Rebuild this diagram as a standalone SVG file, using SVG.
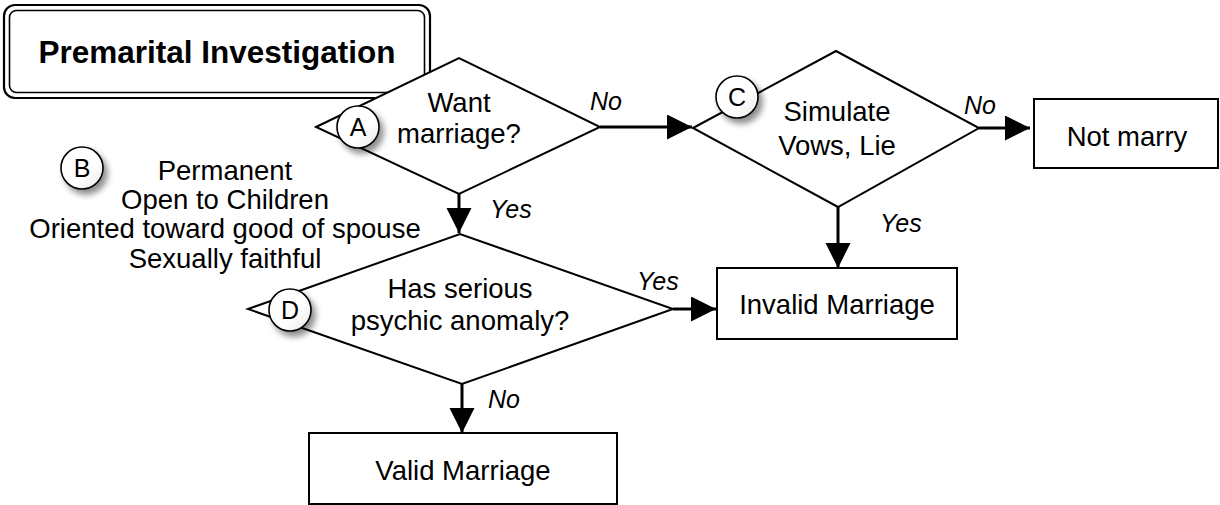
<svg xmlns="http://www.w3.org/2000/svg" width="1220" height="505" viewBox="0 0 1220 505">
<defs>
<style>
text{font-family:"Liberation Sans",Arial,sans-serif;fill:#000}
.t{font-size:27.5px;text-anchor:middle}
.lbl{font-size:25px;font-style:italic}
.shape{fill:#fff;stroke:#000;stroke-width:2}
.conn{stroke:#000;stroke-width:3;fill:none}
.circ{fill:url(#cg);stroke:#000;stroke-width:1.6;filter:url(#sh)}
.cl{font-size:25px;text-anchor:middle}
</style>
<marker id="ah" markerUnits="userSpaceOnUse" markerWidth="26" markerHeight="26" refX="25" refY="12.5" orient="auto">
<path d="M0,0 L25,12.5 L0,25 z" fill="#000"/>
</marker>
<linearGradient id="cg" x1="0" y1="0" x2="1" y2="1">
<stop offset="0" stop-color="#ffffff"/>
<stop offset="0.6" stop-color="#ffffff"/>
<stop offset="1" stop-color="#e6e6e6"/>
</linearGradient>
<filter id="sh" x="-40%" y="-40%" width="200%" height="200%">
<feGaussianBlur in="SourceAlpha" stdDeviation="3"/>
<feOffset dx="4" dy="5" result="b"/>
<feComponentTransfer><feFuncA type="linear" slope="0.45"/></feComponentTransfer>
<feMerge><feMergeNode/><feMergeNode in="SourceGraphic"/></feMerge>
</filter>
</defs>
<rect width="1220" height="505" fill="#fff"/>

<g id="title">
<rect x="4" y="5" width="426" height="93" rx="11" fill="#fff" stroke="#000" stroke-width="2.2"/>
<rect x="9.5" y="10.5" width="415" height="82" rx="7" fill="none" stroke="#000" stroke-width="1.6"/>
<text x="217" y="63" style="font-size:31.5px;font-weight:bold;text-anchor:middle">Premarital Investigation</text>
</g>

<g id="d1">
<polygon class="shape" points="316,127 459,58 600,127 459,194"/>
<text class="t" x="459" y="112">Want</text>
<text class="t" x="459" y="143">marriage?</text>
</g>

<g id="d2">
<polygon class="shape" points="693,128 836,51 979,128 838,207"/>
<text class="t" x="837" y="121">Simulate</text>
<text class="t" x="837" y="155">Vows, Lie</text>
</g>

<g id="notmarry">
<rect class="shape" x="1034" y="99" width="184" height="69"/>
<text class="t" x="1127" y="146">Not marry</text>
</g>

<g id="legendB">
<text class="t" x="225" y="180">Permanent</text>
<text class="t" x="225" y="209">Open to Children</text>
<text class="t" x="225" y="238">Oriented toward good of spouse</text>
<text class="t" x="225" y="268">Sexually faithful</text>
</g>

<g id="d3">
<polygon class="shape" points="248,309 460,234 673,309 462,384"/>
<text class="t" x="460" y="298">Has serious</text>
<text class="t" x="460" y="330">psychic anomaly?</text>
</g>

<g id="invalid">
<rect class="shape" x="717" y="268" width="240" height="71"/>
<text class="t" x="837" y="314">Invalid Marriage</text>
</g>

<g id="valid">
<rect class="shape" x="309" y="433" width="308" height="71"/>
<text class="t" x="463" y="480">Valid Marriage</text>
</g>

<g id="markers">
<g id="mA"><circle class="circ" cx="358" cy="127" r="21"/><text class="cl" x="358" y="136">A</text></g>
<g id="mB"><circle class="circ" cx="82" cy="168" r="21"/><text class="cl" x="82" y="177">B</text></g>
<g id="mC"><circle class="circ" cx="737" cy="97" r="21"/><text class="cl" x="737" y="106">C</text></g>
<g id="mD"><circle class="circ" cx="290" cy="310" r="21"/><text class="cl" x="290" y="319">D</text></g>
</g>

<g id="connectors">
<line class="conn" x1="600" y1="127" x2="692" y2="127" marker-end="url(#ah)"/>
<line class="conn" x1="979" y1="128" x2="1030" y2="128" marker-end="url(#ah)"/>
<line class="conn" x1="459" y1="194" x2="459" y2="233" marker-end="url(#ah)"/>
<line class="conn" x1="838" y1="207" x2="838" y2="268" marker-end="url(#ah)"/>
<line class="conn" x1="673" y1="309" x2="716" y2="309" marker-end="url(#ah)"/>
<line class="conn" x1="462" y1="384" x2="462" y2="433" marker-end="url(#ah)"/>
<text class="lbl" x="590" y="110">No</text>
<text class="lbl" x="964" y="114">No</text>
<text class="lbl" x="490" y="218">Yes</text>
<text class="lbl" x="880" y="232">Yes</text>
<text class="lbl" x="637" y="290">Yes</text>
<text class="lbl" x="488" y="408">No</text>
</g>
</svg>
